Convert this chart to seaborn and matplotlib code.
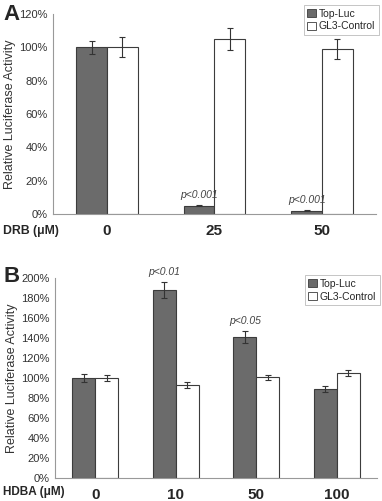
import numpy as np
import pandas as pd
import seaborn as sns
import matplotlib.pyplot as plt
from matplotlib.ticker import PercentFormatter
from matplotlib.patches import Patch

series = ['Top-Luc', 'GL3-Control']

drb_doses = ['0', '25', '50']
drb_top = [100, 5, 2]
drb_top_err = [4, 0.5, 0.3]
drb_gl3 = [100, 105, 99]
drb_gl3_err = [6, 6.5, 6]
drb_pvals = ['', 'p<0.001', 'p<0.001']

hdba_doses = ['0', '10', '50', '100']
hdba_top = [100, 188, 141, 89]
hdba_top_err = [4, 8, 6, 3.5]
hdba_gl3 = [100, 93, 101, 105]
hdba_gl3_err = [3, 3, 2.5, 3]
hdba_pvals = ['', 'p<0.01', 'p<0.05', '']

dark = '#6b6b6b'
edge = '#3c3c3c'

sns.set_style('white')
plt.rcParams['font.family'] = ['Liberation Sans', 'DejaVu Sans']


def panel(ax, doses, top, top_err, gl3, gl3_err, pvals, ymax, leg_y):
    df = pd.DataFrame({
        'dose': doses * 2,
        'value': top + gl3,
        'series': [series[0]] * len(doses) + [series[1]] * len(doses),
    })
    sns.barplot(data=df, x='dose', y='value', hue='series', order=doses,
                hue_order=series, palette=[dark, 'white'], width=0.57,
                errorbar=None, edgecolor=edge, linewidth=0.8, saturation=1,
                legend=False, ax=ax)
    for cont, errs in zip(ax.containers, [top_err, gl3_err]):
        xs = [p.get_x() + p.get_width() / 2 for p in cont.patches]
        ys = [p.get_height() for p in cont.patches]
        ax.errorbar(xs, ys, yerr=errs, fmt='none', ecolor='#333333',
                    elinewidth=0.8, capsize=2.5, capthick=0.8)
    top_bars = ax.containers[0].patches
    for p, txt, v, e in zip(top_bars, pvals, top, top_err):
        if txt:
            ax.text(p.get_x() + p.get_width() / 2, v + e + ymax * 0.025, txt,
                    ha='center', va='bottom', fontsize=7.5, style='italic',
                    color='#444444')
    ax.set_ylim(0, ymax)
    ax.set_xlim(-0.5, len(doses) - 0.5)
    ax.set_yticks(np.arange(0, ymax + 1, 20))
    ax.yaxis.set_major_formatter(PercentFormatter(decimals=0))
    ax.tick_params(axis='y', labelsize=8, length=3, width=0.6, color='#888888',
                   colors='#333333', pad=1)
    ax.tick_params(axis='x', labelsize=11, length=2, width=0.6, color='#aaaaaa',
                   pad=5)
    for t in ax.get_xticklabels():
        t.set_fontweight('bold')
    ax.set_xlabel('')
    ax.set_ylabel('Relative Luciferase Activity', fontsize=9, color='#333333',
                  labelpad=2)
    sns.despine(ax=ax)
    for s in ['left', 'bottom']:
        ax.spines[s].set_color('#999999')
        ax.spines[s].set_linewidth(0.8)
    handles = [Patch(facecolor=dark, edgecolor=edge, linewidth=0.6),
               Patch(facecolor='white', edgecolor=edge, linewidth=0.6)]
    leg = ax.legend(handles, series, loc='upper right', fontsize=7.5,
                    handlelength=0.8, handleheight=0.8, handletextpad=0.3,
                    borderpad=0.35, labelspacing=0.25, fancybox=False,
                    bbox_to_anchor=(1.025, leg_y))
    leg.get_frame().set_edgecolor('#aaaaaa')
    leg.get_frame().set_linewidth(0.6)


fig = plt.figure(figsize=(3.82, 5.01), dpi=100)
ax1 = fig.add_axes([0.139, 0.573, 0.845, 0.399])
ax2 = fig.add_axes([0.144, 0.046, 0.843, 0.399])

panel(ax1, drb_doses, drb_top, drb_top_err, drb_gl3, drb_gl3_err, drb_pvals,
      120, 1.07)
panel(ax2, hdba_doses, hdba_top, hdba_top_err, hdba_gl3, hdba_gl3_err, hdba_pvals,
      200, 1.04)

fig.text(0.008, 1 - 15 / 501, 'A', fontsize=16, fontweight='bold',
         ha='left', va='center')
fig.text(0.008, 1 - 276 / 501, 'B', fontsize=16, fontweight='bold',
         ha='left', va='center')
fig.text(0.008, 1 - 231 / 501, 'DRB (μM)', fontsize=8.8, fontweight='bold',
         ha='left', va='center')
fig.text(0.008, 1 - 492 / 501, 'HDBA (μM)', fontsize=8.5, fontweight='bold',
         ha='left', va='center')

fig.savefig('out.png', dpi=100)
